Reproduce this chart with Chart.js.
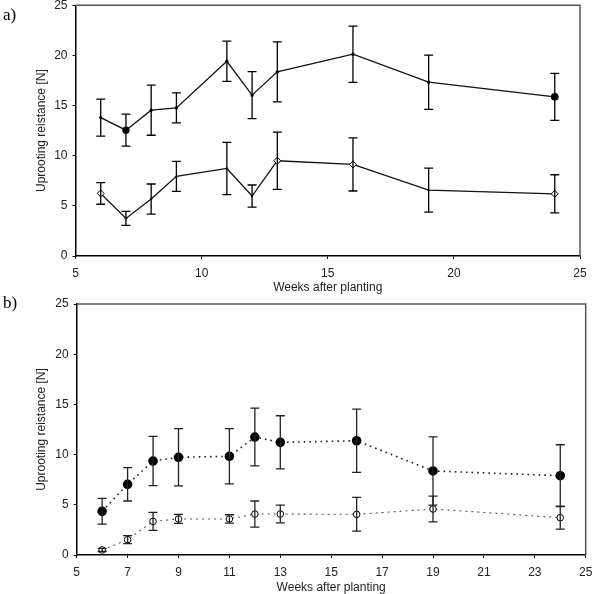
<!DOCTYPE html>
<html>
<head>
<meta charset="utf-8">
<script src="https://cdn.jsdelivr.net/npm/chart.js@4.4.1/dist/chart.umd.min.js"></script>
<style>
  html, body { margin: 0; padding: 0; background: #fff; }
  body { width: 595px; height: 594px; position: relative; overflow: hidden; }
  canvas { position: absolute; left: 0; }
  #c1 { top: 0; }
  #c2 { top: 297px; }
  .lab { position: absolute; font-family: 'Liberation Serif', 'Times New Roman', serif; font-size: 17px; line-height: 18px; color: #000; }
</style>
</head>
<body>
<canvas id="c1" width="595" height="297"></canvas>
<canvas id="c2" width="595" height="297"></canvas>
<div class="lab" style="left:3px; top:6px;">a)</div>
<div class="lab" style="left:3px; top:294px;">b)</div>
<script>
// ---------- data ----------
const weeks = [6, 7, 8, 9, 11, 12, 13, 16, 19, 24];

// panel a)
const aUpper = [13.8, 12.55, 14.54, 14.77, 19.42, 16.04, 18.36, 20.12, 17.33, 15.87];
const aUpperErr = [1.85, 1.6, 2.5, 1.5, 2.0, 2.35, 3.0, 2.8, 2.7, 2.35];
const aLower = [6.24, 3.75, 5.68, 7.94, 8.73, 5.98, 9.5, 9.13, 6.57, 6.2];
const aLowerErr = [1.08, 0.7, 1.5, 1.5, 2.6, 1.1, 2.85, 2.65, 2.2, 1.9];
const aXTicks = [5, 10, 15, 20, 25];

// panel b)
const bFilled = [4.35, 7.04, 9.36, 9.73, 9.83, 11.75, 11.22, 11.38, 8.37, 7.9];
const bFilledErr = [1.28, 1.66, 2.45, 2.85, 2.75, 2.87, 2.65, 3.15, 3.4, 3.08];
const bOpen = [0.5, 1.53, 3.35, 3.59, 3.59, 4.08, 4.08, 4.05, 4.58, 3.72];
const bOpenErr = [0.15, 0.4, 0.9, 0.45, 0.42, 1.3, 0.88, 1.68, 1.29, 1.15];
const bXTicks = [5, 7, 9, 11, 13, 15, 17, 19, 21, 23, 25];

const yTicks = [0, 5, 10, 15, 20, 25];
const xTitle = 'Weeks after planting';
const yTitle = 'Uprooting reistance [N]';

// ---------- helpers ----------
Chart.defaults.font.family = "'Liberation Sans', Arial, sans-serif";
Chart.defaults.font.size = 12;
Chart.defaults.color = '#222';

function pts(xs, ys) { return xs.map((x, i) => ({ x: x, y: ys[i] })); }
function noPad(s) { s.paddingTop = 0; s.paddingBottom = 0; s.paddingLeft = 0; s.paddingRight = 0; }

const errorBars = {
  id: 'errorBars',
  afterDatasetsDraw(chart) {
    const ctx = chart.ctx, xs = chart.scales.x, ys = chart.scales.y;
    ctx.save();
    chart.data.datasets.forEach(ds => {
      if (!ds.errors) return;
      ctx.strokeStyle = ds.errColor || '#000';
      ctx.lineWidth = 1.3;
      ds.data.forEach((p, i) => {
        const e = ds.errors[i];
        const px = xs.getPixelForValue(p.x);
        const yt = ys.getPixelForValue(p.y + e);
        const yb = ys.getPixelForValue(p.y - e);
        ctx.beginPath();
        ctx.moveTo(px, yt); ctx.lineTo(px, yb);
        ctx.moveTo(px - 4.5, yt); ctx.lineTo(px + 4.5, yt);
        ctx.moveTo(px - 4.5, yb); ctx.lineTo(px + 4.5, yb);
        ctx.stroke();
      });
    });
    ctx.restore();
  }
};

const frame = {
  id: 'frame',
  beforeDatasetsDraw(chart) {
    const a = chart.chartArea, ctx = chart.ctx;
    ctx.save();
    ctx.strokeStyle = '#555';
    ctx.lineWidth = 1.5;
    ctx.beginPath();
    ctx.moveTo(a.left, a.top); ctx.lineTo(a.right, a.top); ctx.lineTo(a.right, a.bottom);
    ctx.stroke();
    ctx.restore();
  }
};

function makeOptions(cfg) {
  return {
    responsive: false,
    animation: false,
    layout: { padding: { left: 30, right: cfg.right, top: cfg.top, bottom: 0 } },
    plugins: { legend: { display: false }, tooltip: { enabled: false } },
    scales: {
      x: {
        type: 'linear', min: 5, max: 25,
        afterBuildTicks: s => { s.ticks = cfg.xTicks.map(v => ({ value: v })); },
        afterFit: s => { s.height = cfg.xHeight; noPad(s); },
        grid: { drawOnChartArea: false, drawTicks: true, tickLength: 3, color: '#000', lineWidth: 1 },
        border: { color: '#000', width: 1.5 },
        ticks: { padding: cfg.xPad, color: '#222', font: { size: 12 }, maxRotation: 0 },
        title: { display: true, text: xTitle, color: '#222', font: { size: 12 }, padding: { top: 0, bottom: cfg.titlePad } }
      },
      y: {
        type: 'linear', min: 0, max: 25,
        afterBuildTicks: s => { s.ticks = yTicks.map(v => ({ value: v })); },
        afterFit: s => { s.width = cfg.yWidth; noPad(s); },
        grid: { drawOnChartArea: false, drawTicks: true, tickLength: 3, color: '#000', lineWidth: 1 },
        border: { color: '#000', width: 1.5 },
        ticks: { padding: 5, color: '#222', font: { size: 12 } },
        title: { display: true, text: yTitle, color: '#222', font: { size: 12 }, padding: { top: 4, bottom: 0 } }
      }
    }
  };
}

// ---------- panel a ----------
new Chart(document.getElementById('c1'), {
  type: 'line',
  data: {
    datasets: [
      {
        data: pts(weeks, aUpper), errors: aUpperErr,
        borderColor: '#111', borderWidth: 1.3, tension: 0,
        pointRadius: [1, 3, 1, 1, 1, 1, 1, 1, 1, 3.2],
        pointBackgroundColor: '#000', pointBorderColor: '#000', pointStyle: 'circle'
      },
      {
        data: pts(weeks, aLower), errors: aLowerErr,
        borderColor: '#111', borderWidth: 1.3, tension: 0,
        pointRadius: [3.5, 1, 1, 1, 1, 1, 3.5, 3.5, 1, 3.5],
        pointStyle: 'rectRot', pointBackgroundColor: '#fff', pointBorderColor: '#000', pointBorderWidth: 1
      }
    ]
  },
  options: makeOptions({ right: 15, top: 5, xTicks: aXTicks, xHeight: 41, xPad: 7, titlePad: 2.5, yWidth: 45.5 }),
  plugins: [frame, errorBars]
});

// ---------- panel b ----------
new Chart(document.getElementById('c2'), {
  type: 'line',
  data: {
    datasets: [
      {
        data: pts(weeks, bFilled), errors: bFilledErr, errColor: '#222',
        borderColor: '#222', borderWidth: 1.6, borderDash: [1.6, 4], tension: 0,
        pointRadius: 4, pointStyle: 'circle',
        pointBackgroundColor: '#000', pointBorderColor: '#000'
      },
      {
        data: pts(weeks, bOpen), errors: bOpenErr, errColor: '#222',
        borderColor: '#555', borderWidth: 1.1, borderDash: [2, 4], tension: 0,
        pointRadius: 3.3, pointStyle: 'circle',
        pointBackgroundColor: '#fff', pointBorderColor: '#000', pointBorderWidth: 1
      }
    ]
  },
  options: makeOptions({ right: 9.3, top: 7, xTicks: bXTicks, xHeight: 39, xPad: 7.5, titlePad: -1, yWidth: 46.7 }),
  plugins: [frame, errorBars]
});
</script>
</body>
</html>
